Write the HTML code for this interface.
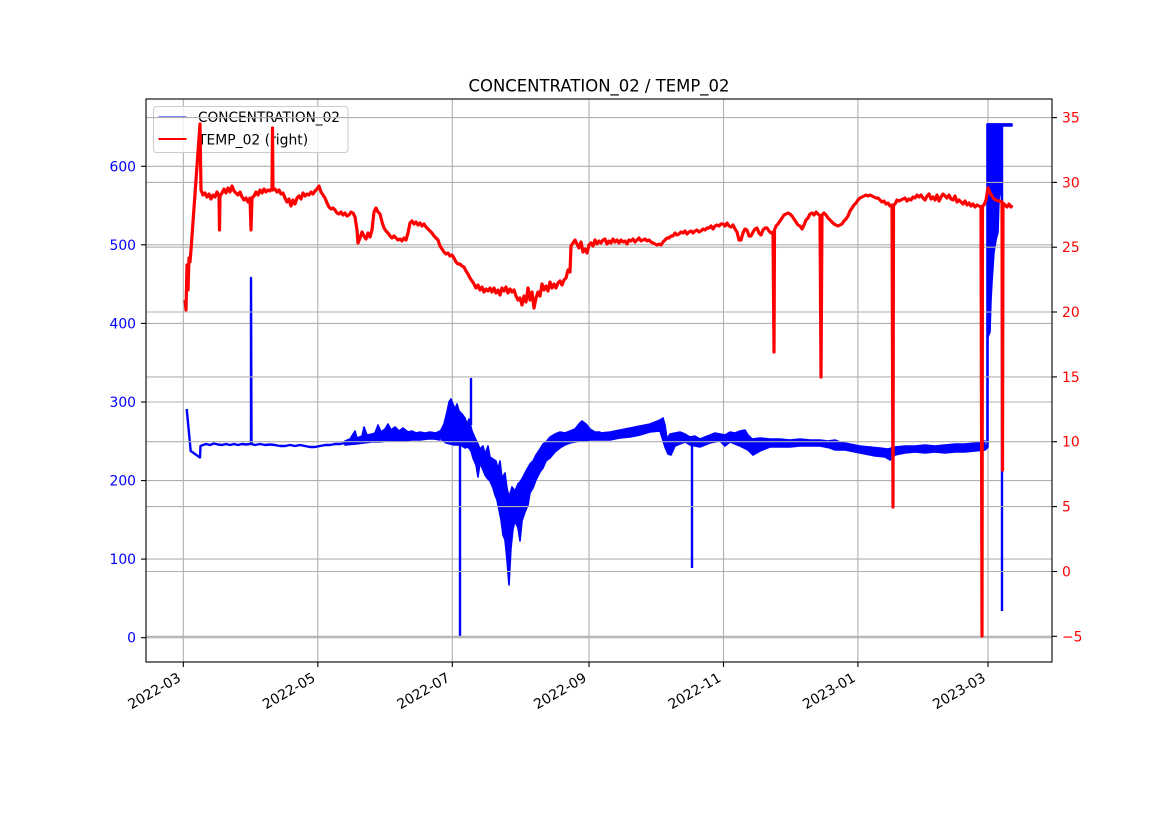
<!DOCTYPE html>
<html><head><meta charset="utf-8"><style>
html,body{margin:0;padding:0;background:#fff;}
svg{display:block;font-family:"DejaVu Sans","Liberation Sans",sans-serif;}
</style></head><body>
<svg width="1169" height="827" viewBox="0 0 1169 827" xmlns="http://www.w3.org/2000/svg">
<rect width="1169" height="827" fill="#fff"/>
<!-- ax1 grid -->
<g stroke="#b0b0b0" stroke-width="1.1">
<line x1="183.3" y1="99" x2="183.3" y2="662"/><line x1="317.8" y1="99" x2="317.8" y2="662"/><line x1="452.3" y1="99" x2="452.3" y2="662"/><line x1="589" y1="99" x2="589" y2="662"/><line x1="723.5" y1="99" x2="723.5" y2="662"/><line x1="857.9" y1="99" x2="857.9" y2="662"/><line x1="988" y1="99" x2="988" y2="662"/>
<line x1="146" y1="637.7" x2="1052" y2="637.7"/><line x1="146" y1="559.1" x2="1052" y2="559.1"/><line x1="146" y1="480.6" x2="1052" y2="480.6"/><line x1="146" y1="402" x2="1052" y2="402"/><line x1="146" y1="323.4" x2="1052" y2="323.4"/><line x1="146" y1="244.8" x2="1052" y2="244.8"/><line x1="146" y1="166.3" x2="1052" y2="166.3"/>
</g>
<!-- blue series -->
<g fill="#0000ff" stroke="#0000ff" stroke-width="1.6" stroke-linejoin="round">
<polygon points="345,441 350,439 355,431 357,438 362,436 364,427 367,435 372,434 375,433 378,425 381,432 385,429 388,424 391,430 395,427 399,431 403,428 408,432 412,431 416,433 420,432 425,433 430,432 436,433 440,431 440,440 434,439 428,439 420,440 412,440 404,441 396,441 388,441 380,442 372,442 364,443 356,444 345,445"/>
<polygon points="440,432 444,424 447,412 449,402 451,399 453,404 455,409 457,404 459,411 462,414 465,418 467,424 469,419 472,431 475,438 478,444 480,449 483,446 485,454 488,446 490,457 493,459 496,461 498,469 500,461 502,478 505,473 507,488 509,497 512,487 515,491 518,484 520,482 523,477 526,471 530,464 533,461 536,455 540,449 543,444 546,442 550,437 555,434 560,432 565,433 570,431 575,429 579,424 582,421 586,424 590,429 595,432 600,432 600,440 595,440 590,440 585,441 580,441 575,442 570,443 565,445 560,448 555,452 550,458 546,461 543,468 540,472 536,480 533,488 530,493 528,505 525,512 522,521 520,541 518,528 515,521 513,529 511,548 509,585 507,560 505,540 503,535 501,520 499,510 497,500 495,495 493,488 490,481 487,478 485,475 483,470 480,463 478,477 476,465 473,458 471,451 468,447 465,448 462,446 458,445 454,445 450,444 446,443 442,440"/>
<polygon points="600,433 610,432 620,430 630,428 640,426 650,424 655,422 660,420 663,418 665,425 667,439 670,434 675,433 680,432 685,434 690,437 695,436 700,439 705,437 710,435 715,433 720,434 725,435 730,432 735,433 740,431 745,430 748,435 752,439 760,438 770,439 780,439 790,440 800,439 810,440 820,440 828,441 835,440 840,442 850,444 860,446 870,447 880,448 888,449 895,447 905,446 915,446 925,445 935,446 945,445 955,444 965,444 975,443 985,441 985,450 975,451 965,452 955,452 945,453 935,452 925,453 915,452 905,453 895,455 890,460 885,457 875,456 865,454 855,452 845,450 835,450 830,448 820,446 810,446 800,446 790,447 780,447 770,447 760,451 753,455 748,450 740,446 730,442 725,446 720,441 710,443 700,447 695,446 690,445 685,442 680,444 675,446 671,455 668,454 665,447 660,431 650,432 640,435 630,437 620,438 610,440 600,440"/>
<polygon points="985,450 987,444 987,124 1012,124 1012,126 1002,126 1001,190 999,200 998,232 996,240 994,252 992,282 991,300 990,332 988,337 988,447"/>
</g>
<g fill="none" stroke="#0000ff" stroke-width="2.4" stroke-linejoin="round">
<polyline points="186.7,409 190.7,451 200,457.5 200.5,446 203,445 206,444 210,445 214,443.5 218,444.5 222,445 226,444 230,445 234,444 238,445 242,444 246,444.5 250,444 251,444 251,278 251.5,444 255,445 260,444 265,445 270,444.5 275,445 280,446 285,446 290,445 295,446 300,445 305,446 310,447 315,447 320,446 325,445 330,445 335,444 340,444 345,443"/>
<line x1="460" y1="440" x2="460" y2="636"/>
<line x1="471" y1="425" x2="471" y2="378"/>
<line x1="692" y1="438" x2="692" y2="568"/>
<line x1="893" y1="452" x2="893" y2="325"/>
<line x1="1002" y1="124" x2="1002" y2="611"/>
<line x1="987" y1="124.5" x2="1012" y2="124.5"/>
</g>
<!-- legend -->
<rect x="153.5" y="106.5" width="194.5" height="46" rx="3" fill="#fff" fill-opacity="0.8" stroke="#cccccc" stroke-width="1"/>
<line x1="158.5" y1="117" x2="186.5" y2="117" stroke="#0000ff" stroke-width="1"/>
<line x1="158.5" y1="139" x2="186.5" y2="139" stroke="#ff0000" stroke-width="2"/>
<text x="198" y="122" font-size="13.9" fill="#000" textLength="142" lengthAdjust="spacingAndGlyphs">CONCENTRATION_02</text>
<text x="198" y="144.5" font-size="13.9" fill="#000">TEMP_02 (right)</text>
<!-- ax2 grid -->
<g stroke="#b0b0b0" stroke-width="1.1">
<line x1="146" y1="636.3" x2="1052" y2="636.3"/><line x1="146" y1="571.5" x2="1052" y2="571.5"/><line x1="146" y1="506.6" x2="1052" y2="506.6"/><line x1="146" y1="441.7" x2="1052" y2="441.7"/><line x1="146" y1="376.9" x2="1052" y2="376.9"/><line x1="146" y1="312" x2="1052" y2="312"/><line x1="146" y1="247.2" x2="1052" y2="247.2"/><line x1="146" y1="182.4" x2="1052" y2="182.4"/><line x1="146" y1="117.6" x2="1052" y2="117.6"/>
</g>
<!-- red series -->
<polyline fill="none" stroke="#ff0000" stroke-width="3.2" stroke-linejoin="round" points="185,300 186,310 187,265 188,290 189,258 190,262 191,250 200,124 201,190 203,195 205,193 207,197 209,194 211,199 213,195 215,197 217,192 219,196 219.5,230 220,196 222,193 224,189 226,193 228,188 230,192 232,186 234,191 236,193 238,195 240,192 242,197 244,200 246,198 248,202 250,198 251,230 252,198 254,196 256,192 258,195 260,190 262,193 264,189 266,192 268,190 270,191 272,188 272.5,128 273,190 275,189 277,192 279,190 281,194 283,193 285,198 287,202 289,199 291,206 293,200 295,204 297,198 299,196 301,199 303,193 305,196 307,194 309,195 311,192 313,194 315,191 317,189 319,186 321,192 323,195 325,198 327,203 329,207 331,209 333,208 335,210 337,213 339,214 341,212 343,215 345,213 347,216 349,215 351,212 353,213 355,217 357,230 358,243 360,238 362,232 364,236 366,239 368,233 370,237 372,230 374,212 376,208 378,212 380,214 382,222 384,228 386,231 388,233 390,236 392,238 394,236 396,238 398,240 400,239 402,241 404,238 406,240 408,233 410,223 412,221 414,224 416,222 418,225 420,223 422,226 424,224 426,227 428,229 430,231 432,233 434,236 436,238 438,240 440,246 442,249 444,252 446,254 448,253 450,256 452,255 454,258 456,262 458,264 460,264 462,266 464,267 466,271 468,274 470,278 472,281 474,284 476,288 478,285 480,290 482,287 484,292 486,289 488,291 490,288 492,292 494,288 496,293 498,290 500,295 502,288 504,291 506,287 508,293 510,289 512,292 514,290 516,296 518,300 520,298 522,305 524,296 526,302 528,288 530,300 532,292 534,308 536,298 538,292 540,296 542,284 544,290 546,286 548,291 550,282 552,288 554,284 556,288 558,283 560,281 562,285 564,280 566,278 568,270 570,272 571,246 573,243 575,240 577,244 579,248 581,242 583,252 585,249 587,253 589,245 591,243 593,246 595,240 597,244 599,241 601,243 603,240 605,239 607,244 609,241 611,243 613,239 615,242 617,240 619,243 621,240 623,242 625,241 627,244 629,240 631,241 633,239 635,242 637,240 639,238 641,241 643,240 645,239 647,241 649,240 651,242 653,243 655,244 657,245 659,244 661,245 663,242 665,240 667,238 669,238 671,236 673,236 675,233 677,235 679,234 681,232 683,233 685,231 687,234 689,232 691,231 693,233 695,231 697,230 699,232 701,231 703,229 705,230 707,228 709,228 711,226 713,229 715,226 717,225 719,226 721,224 723,224 725,226 727,223 729,226 731,227 733,225 735,229 737,232 739,240 741,240 743,233 745,229 747,230 749,236 751,236 753,232 755,229 757,228 759,233 761,235 763,230 765,228 767,228 769,231 771,233 773,232 774,352 774.5,230 776,226 778,224 780,221 782,218 784,215 786,214 788,213 790,214 792,216 794,219 796,222 798,225 800,226 802,229 804,225 806,220 808,218 810,214 812,213 814,215 816,212 818,214 820,216 821,377 822,215 824,213 826,215 828,218 830,220 832,222 834,224 836,225 838,226 840,225 842,224 844,221 846,219 848,216 850,211 852,208 854,205 856,203 858,200 860,198 862,197 864,196 866,195 868,196 870,195 872,196 874,197 876,198 878,198 880,200 882,202 884,201 886,204 888,203 890,206 892,205 893,507 893.5,205 895,204 897,200 899,201 901,200 903,199 905,198 907,201 909,199 911,200 913,197 915,198 917,195 919,197 921,195 923,198 925,200 927,196 929,194 931,199 933,197 935,200 937,195 939,201 941,197 943,194 945,196 947,198 949,195 951,199 953,200 955,196 957,202 959,200 961,202 963,204 965,201 967,205 969,203 971,206 973,204 975,207 977,205 979,206 981,207 982,636 982.5,206 984,205 986,200 988,188 990,193 992,196 994,199 996,200 998,201 1000,201 1002,202 1002.5,470 1003,203 1005,205 1007,207 1009,204 1011,207 1012,205"/>
<!-- spines -->
<rect x="146" y="99" width="906" height="563" fill="none" stroke="#000" stroke-width="1.1"/>
<!-- ticks -->
<g stroke="#000" stroke-width="1.1">
<line x1="183.3" y1="662" x2="183.3" y2="667"/><line x1="317.8" y1="662" x2="317.8" y2="667"/><line x1="452.3" y1="662" x2="452.3" y2="667"/><line x1="589" y1="662" x2="589" y2="667"/><line x1="723.5" y1="662" x2="723.5" y2="667"/><line x1="857.9" y1="662" x2="857.9" y2="667"/><line x1="988" y1="662" x2="988" y2="667"/>
<line x1="141" y1="637.7" x2="146" y2="637.7"/><line x1="141" y1="559.1" x2="146" y2="559.1"/><line x1="141" y1="480.6" x2="146" y2="480.6"/><line x1="141" y1="402" x2="146" y2="402"/><line x1="141" y1="323.4" x2="146" y2="323.4"/><line x1="141" y1="244.8" x2="146" y2="244.8"/><line x1="141" y1="166.3" x2="146" y2="166.3"/>
<line x1="1052" y1="636.3" x2="1057" y2="636.3"/><line x1="1052" y1="571.5" x2="1057" y2="571.5"/><line x1="1052" y1="506.6" x2="1057" y2="506.6"/><line x1="1052" y1="441.7" x2="1057" y2="441.7"/><line x1="1052" y1="376.9" x2="1057" y2="376.9"/><line x1="1052" y1="312" x2="1057" y2="312"/><line x1="1052" y1="247.2" x2="1057" y2="247.2"/><line x1="1052" y1="182.4" x2="1057" y2="182.4"/><line x1="1052" y1="117.6" x2="1057" y2="117.6"/>
</g>
<!-- left labels -->
<g font-size="13.9" fill="#0000ff" text-anchor="end">
<text x="136" y="642.7">0</text><text x="136" y="564.1">100</text><text x="136" y="485.6">200</text><text x="136" y="407">300</text><text x="136" y="328.4">400</text><text x="136" y="249.8">500</text><text x="136" y="171.3">600</text>
</g>
<!-- right labels -->
<g font-size="13.9" fill="#ff0000" text-anchor="start">
<text x="1062" y="641.3">−5</text><text x="1062" y="576.5">0</text><text x="1062" y="511.6">5</text><text x="1062" y="446.7">10</text><text x="1062" y="381.9">15</text><text x="1062" y="317">20</text><text x="1062" y="252.2">25</text><text x="1062" y="187.4">30</text><text x="1062" y="122.6">35</text>
</g>
<!-- x labels -->
<g font-size="13.9" fill="#000" text-anchor="end">
<text x="181.8" y="680.5" transform="rotate(-30 181.8 680.5)">2022-03</text>
<text x="316.3" y="680.5" transform="rotate(-30 316.3 680.5)">2022-05</text>
<text x="450.8" y="680.5" transform="rotate(-30 450.8 680.5)">2022-07</text>
<text x="587.5" y="680.5" transform="rotate(-30 587.5 680.5)">2022-09</text>
<text x="722" y="680.5" transform="rotate(-30 722 680.5)">2022-11</text>
<text x="856.4" y="680.5" transform="rotate(-30 856.4 680.5)">2023-01</text>
<text x="986.5" y="680.5" transform="rotate(-30 986.5 680.5)">2023-03</text>
</g>
<!-- title -->
<text x="599" y="91.5" font-size="16.7" fill="#000" text-anchor="middle" textLength="261" lengthAdjust="spacingAndGlyphs">CONCENTRATION_02 / TEMP_02</text>
</svg>
</body></html>
